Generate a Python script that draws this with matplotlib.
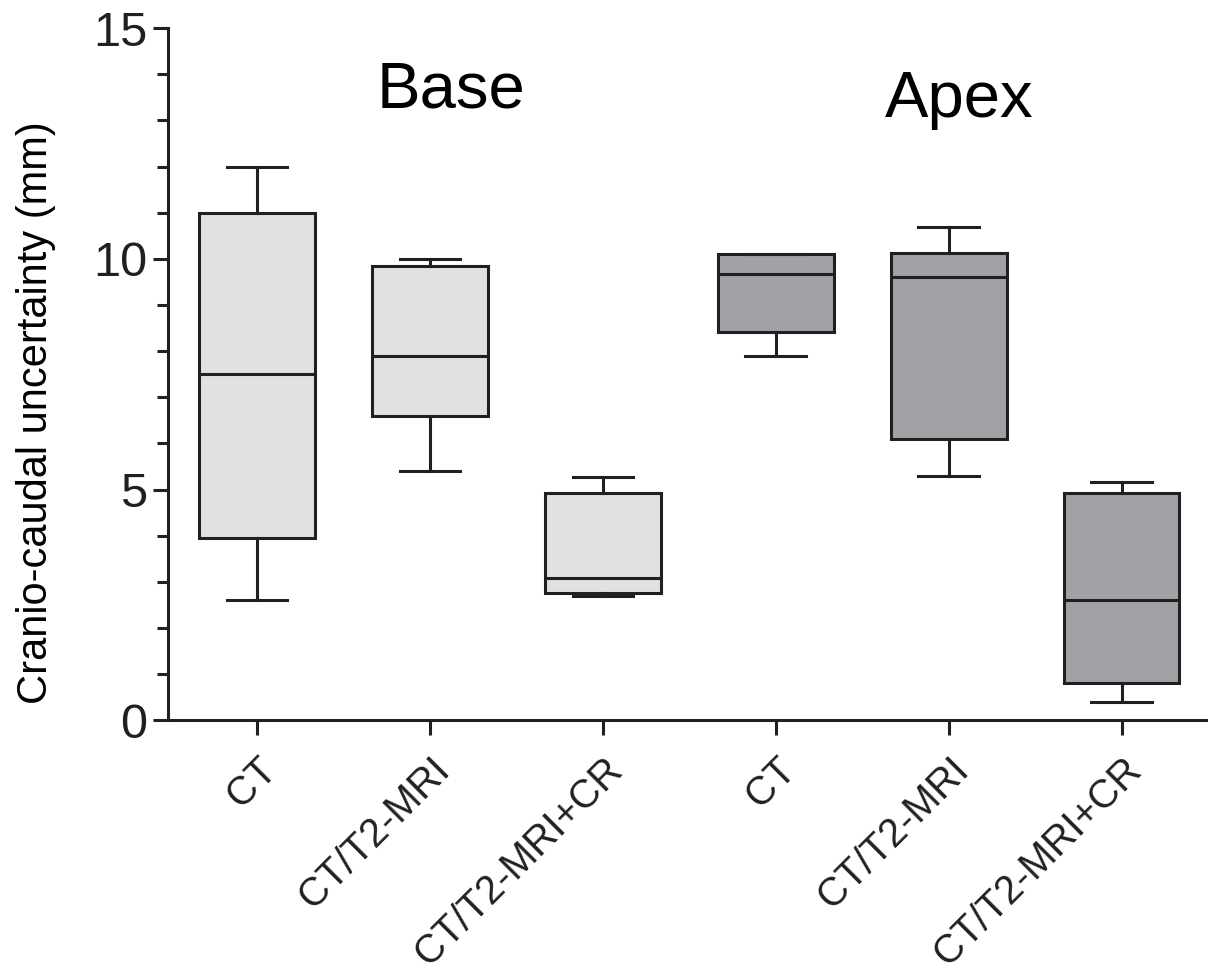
import numpy as np
import matplotlib.pyplot as plt
from matplotlib.ticker import MultipleLocator

plt.rcParams['font.family'] = ['Liberation Sans', 'DejaVu Sans']

# Valori (mm)
labels = ['CT', 'CT/T2-MRI', 'CT/T2-MRI+CR', 'CT', 'CT/T2-MRI', 'CT/T2-MRI+CR']
whislo = [2.6, 5.4, 2.7, 7.9, 5.3, 0.4]
q1 = [3.95, 6.6, 2.75, 8.42, 6.1, 0.8]
med = [7.5, 7.9, 3.08, 9.67, 9.6, 2.6]
q3 = [11.0, 9.85, 4.93, 10.1, 10.12, 4.93]
whishi = [12.0, 10.0, 5.27, 10.1, 10.7, 5.17]
colori = ['#e0e1e3'] * 3 + ['#a1a2a5'] * 3

stats = []
for i in range(len(labels)):
    stats.append(dict(label=labels[i], whislo=whislo[i], q1=q1[i], med=med[i],
                      q3=q3[i], whishi=whishi[i], fliers=[]))

lw = 2.2
fig = plt.figure(figsize=(12.08, 9.72), dpi=100)
ax = fig.add_axes([0.139, 0.259, 0.861, 0.712])

bp = ax.bxp(stats, positions=np.arange(len(labels)), widths=0.67,
            patch_artist=True, showfliers=False,
            boxprops=dict(linewidth=lw, edgecolor='#231f20'),
            medianprops=dict(linewidth=lw, color='#231f20'),
            whiskerprops=dict(linewidth=lw, color='#231f20'),
            capprops=dict(linewidth=lw, color='#231f20'),
            capwidths=0.35)
for patch, c in zip(bp['boxes'], colori):
    patch.set_facecolor(c)

ax.set_xlim(-0.515, 5.5)
ax.set_ylim(0, 15)
ax.yaxis.set_major_locator(MultipleLocator(5))
ax.yaxis.set_minor_locator(MultipleLocator(1))
ax.spines['top'].set_visible(False)
ax.spines['right'].set_visible(False)
for s in ['left', 'bottom']:
    ax.spines[s].set_linewidth(lw)
    ax.spines[s].set_color('#231f20')
ax.tick_params(axis='both', which='major', width=lw, length=11, colors='#231f20')
ax.tick_params(axis='y', which='minor', width=lw, length=8, colors='#231f20')
ax.tick_params(axis='y', labelsize=35, pad=4)
ax.tick_params(axis='x', labelsize=28.5, pad=11)
ax.set_xticks(np.arange(len(labels)))
ax.set_xticklabels(labels, rotation=45, ha='right', rotation_mode='anchor')
ax.set_ylabel('Cranio-caudal uncertainty (mm)', fontsize=30)
ax.yaxis.set_label_coords(-0.108, 0.445)

ax.text(1.12, 13.65, 'Base', fontsize=47, ha='center', va='center')
ax.text(4.06, 13.45, 'Apex', fontsize=47, ha='center', va='center')

plt.savefig('out.png', dpi=100)
